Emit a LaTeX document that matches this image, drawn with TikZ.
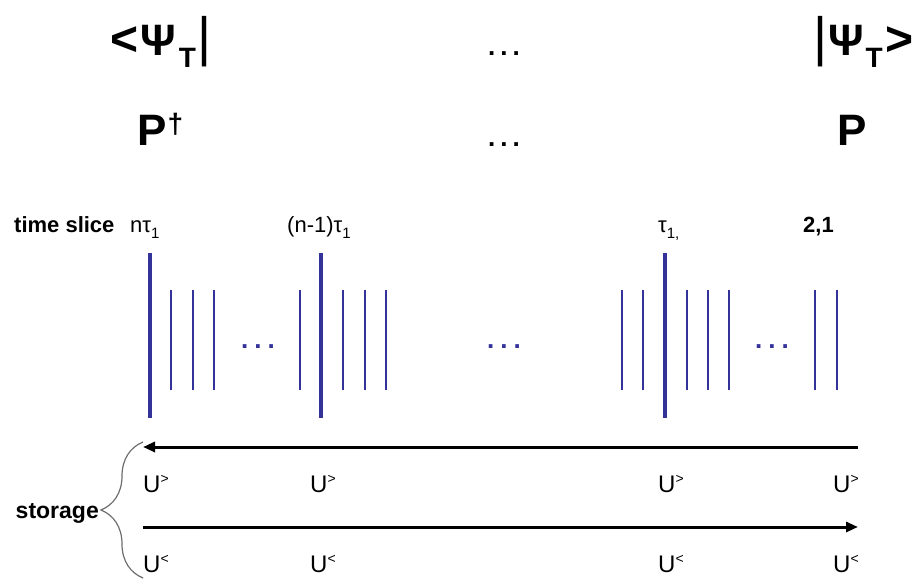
\documentclass[tikz,border=0pt]{standalone}
\usepackage{fontspec}
\setmainfont{Liberation Sans}
\usetikzlibrary{positioning, arrows.meta, decorations.pathreplacing}
\definecolor{clrslice}{HTML}{33339A}
\definecolor{clrtext}{HTML}{000000}
\definecolor{clrbrace}{HTML}{6E6E6E}

\begin{document}
\begin{tikzpicture}[
    x=1pt, y=-1pt,
    >={Triangle[length=12pt, width=10pt]},
    every node/.style={inner sep=0pt, text=clrtext},
    state/.style={font=\fontsize{44}{44}\selectfont\bfseries, anchor=base west},
    ellip/.style={font=\fontsize{26}{26}\selectfont\bfseries, anchor=base},
    slicehead/.style={font=\fontsize{22}{22}\selectfont\bfseries, anchor=base west},
    slicelabel/.style={font=\fontsize{22}{22}\selectfont, anchor=base west},
    store/.style={font=\fontsize{24}{24}\selectfont, anchor=base west},
    major/.style={draw=clrslice, line width=4pt},
    minor/.style={draw=clrslice, line width=2pt},
    arrow/.style={->, line width=3pt, color=clrtext},
    brace/.style={decorate, decoration={brace, amplitude=42pt}, draw=clrbrace, line width=1.2pt},
]
\useasboundingbox (0,0) rectangle (914,581);
\node[state] (n_bra) at (110,55) {{\fontsize{48}{48}\selectfont<}\hspace{2pt}Ψ\hspace{3pt}\raisebox{-12pt}{\fontsize{28}{28}\selectfont T}\hspace{2pt}{\fontsize{54}{54}\selectfont\mdseries|}};
\node[state, anchor=base east] (n_ket) at (914,55) {{\fontsize{54}{54}\selectfont\mdseries|}\hspace{1pt}Ψ\hspace{2pt}\raisebox{-12pt}{\fontsize{28}{28}\selectfont T}\hspace{3pt}{\fontsize{48}{48}\selectfont>}};
\node[ellip] (n_dots_psi) at (504,55) {.\hspace{5pt}.\hspace{5pt}.};
\node[state] (n_pdag) at (137,145) {P\hspace{1pt}\raisebox{12pt}{\fontsize{28}{28}\selectfont †}};
\node[ellip] (n_dots_p) at (504,146) {.\hspace{5pt}.\hspace{5pt}.};
\node[state] (n_p) at (837,145) {P};
\node[slicehead] (n_ts) at (14,232) {time slice};
\node[slicelabel] (n_t_n) at (130,232) {nτ\raisebox{-6pt}{\fontsize{15}{15}\selectfont 1}};
\node[slicelabel] (n_t_nm) at (287,232) {(n-1)τ\raisebox{-6pt}{\fontsize{15}{15}\selectfont 1}};
\node[slicelabel] (n_t_1) at (658,232) {τ\raisebox{-6pt}{\fontsize{15}{15}\selectfont 1,}};
\node[slicehead] (n_t_21) at (803,232) {2,1};
\draw[major] (150,253) -- (150,418);
\draw[minor] (171,290) -- (171,390);
\draw[minor] (193,290) -- (193,390);
\draw[minor] (214,290) -- (214,390);
\draw[minor] (300,290) -- (300,390);
\draw[major] (321,253) -- (321,418);
\draw[minor] (343,290) -- (343,390);
\draw[minor] (365,290) -- (365,390);
\draw[minor] (386,290) -- (386,390);
\draw[minor] (622,290) -- (622,390);
\draw[minor] (643,290) -- (643,390);
\draw[major] (665,253) -- (665,418);
\draw[minor] (687,290) -- (687,390);
\draw[minor] (708,290) -- (708,390);
\draw[minor] (729,290) -- (729,390);
\draw[minor] (815,290) -- (815,390);
\draw[minor] (837,290) -- (837,390);
\node[ellip, text=clrslice] (n_gap_1) at (258,348) {.\hspace{6pt}.\hspace{6pt}.};
\node[ellip, text=clrslice] (n_gap_2) at (504,348) {.\hspace{6pt}.\hspace{6pt}.};
\node[ellip, text=clrslice] (n_gap_3) at (772,348) {.\hspace{6pt}.\hspace{6pt}.};
\coordinate (c_back_from) at (858,447);
\coordinate (c_back_to) at (143,447);
\coordinate (c_fwd_from) at (143,527);
\coordinate (c_fwd_to) at (858,527);
\draw[arrow] (c_back_from) -- (c_back_to);
\draw[arrow] (c_fwd_from) -- (c_fwd_to);
\node[store] (n_ug_1) at (143,492) {U\raisebox{9pt}{\fontsize{14}{14}\selectfont >}};
\node[store] (n_ug_2) at (310,492) {U\raisebox{9pt}{\fontsize{14}{14}\selectfont >}};
\node[store] (n_ug_3) at (658,492) {U\raisebox{9pt}{\fontsize{14}{14}\selectfont >}};
\node[store] (n_ug_4) at (833,492) {U\raisebox{9pt}{\fontsize{14}{14}\selectfont >}};
\node[store] (n_ul_1) at (143,572) {U\raisebox{9pt}{\fontsize{14}{14}\selectfont <}};
\node[store] (n_ul_2) at (310,572) {U\raisebox{9pt}{\fontsize{14}{14}\selectfont <}};
\node[store] (n_ul_3) at (658,572) {U\raisebox{9pt}{\fontsize{14}{14}\selectfont <}};
\node[store] (n_ul_4) at (833,572) {U\raisebox{9pt}{\fontsize{14}{14}\selectfont <}};
\coordinate (c_brace_bot) at (143,578);
\coordinate (c_brace_top) at (143,442);
\draw[brace] (c_brace_bot) -- (c_brace_top);
\node[font=\fontsize{23}{23}\selectfont\bfseries, anchor=base east] (n_storage) at (99,518) {storage};
\end{tikzpicture}
\end{document}
